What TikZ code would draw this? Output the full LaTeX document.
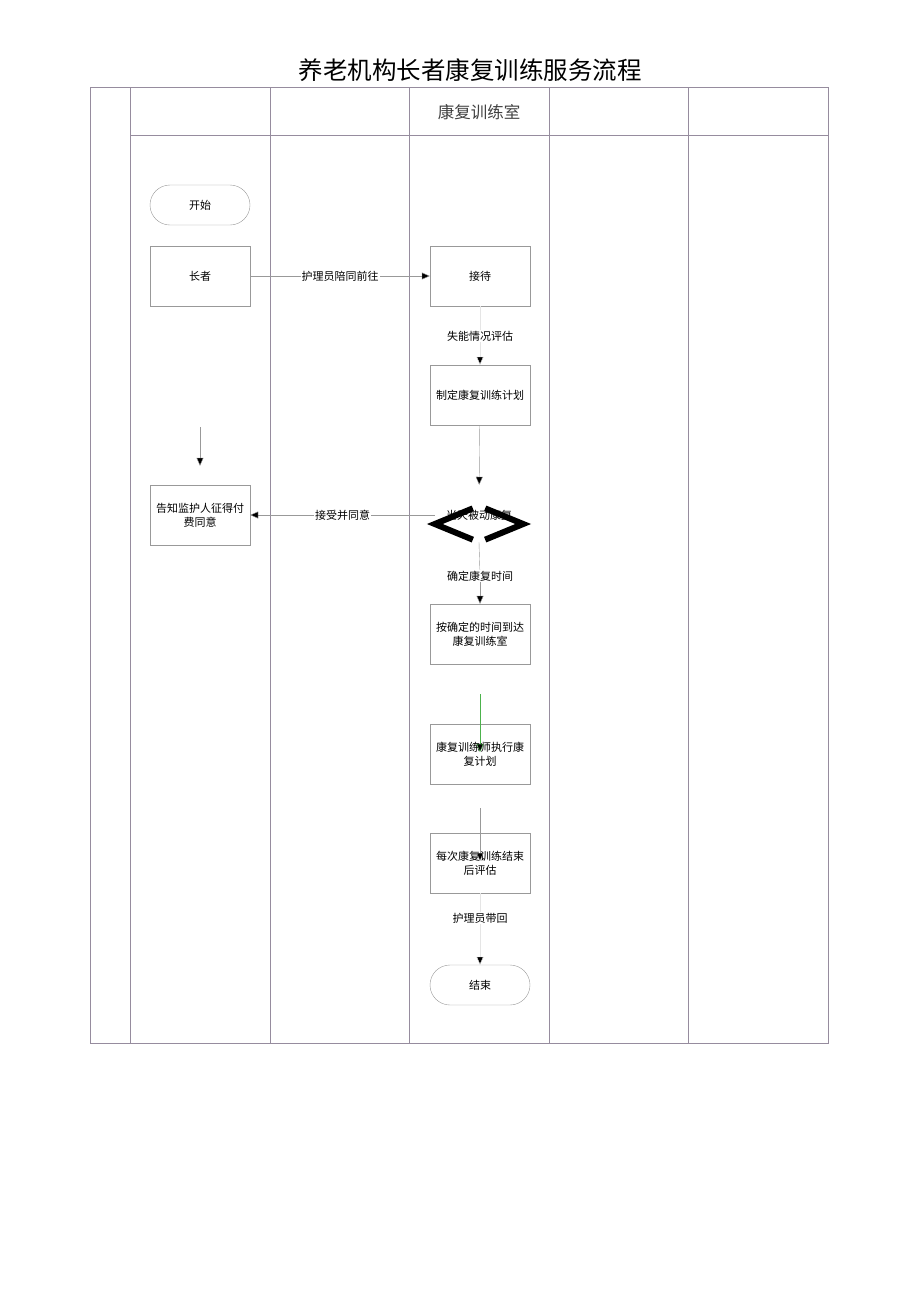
\documentclass[tikz,border=0pt]{standalone}
\usepackage{fontspec}
\newfontfamily\cjk{Noto Sans CJK SC}
\usetikzlibrary{positioning, arrows.meta, calc, shapes.geometric}
\definecolor{carrilgris}{RGB}{150,140,158}
\tikzset{
  caja/.style={
	draw=gray!80, thin, % borde de los pasos
	minimum width=100pt, minimum height=60pt,
	align=center,
  },
  terminal/.style={draw=gray!80, thin, rounded corners=20pt, minimum width=100pt, minimum height=40pt},
  etiqueta/.style={fill=white, inner sep=1pt},
  flecha/.style={-{Triangle[length=8pt, width=7pt, fill=black]}, draw=gray!80, thin},
  carril/.style={draw=carrilgris, thin},
}
\begin{document}
\begin{tikzpicture}[x=1pt, y=-1pt, font=\cjk\fontsize{11}{14}\selectfont]
		\useasboundingbox (0,0) rectangle (920,1301);

		% Carriles
		\draw[carril] (90,87) rectangle (828,1043);
		\foreach \x in {130,270,409,549,688}
			\draw[carril] (\x,87) -- (\x,1043);
		\draw[carril] (130,135) -- (828,135);

		\node[font=\cjk\fontsize{24.5}{28}\selectfont] (titulo) at (470,70) {养老机构长者康复训练服务流程};
		\node[font=\cjk\fontsize{16.5}{19}\selectfont, text=black!75] (sala) at (479,112) {康复训练室};

		% Pasos
		\node[terminal] (inicio) at (200,205) {开始};
		\node[caja] (anciano) at (200,276) {长者};
		\node[caja] (recepcion) at (480,276) {接待};
		\node[etiqueta] (evalua) at (480,336) {失能情况评估};
		\node[caja] (plan) at (480,395) {制定康复训练计划};
		\node[diamond, minimum width=88pt, minimum height=36pt, inner sep=0pt] (decision) at (479,524) {};
		\node[inner sep=1pt] (dectexto) at (479,515) {当天被动康复};
		\node[caja] (aviso) at (200,515) {告知监护人征得付\\费同意};
		\node[etiqueta] (horario) at (480,576) {确定康复时间};
		\node[caja] (llegada) at (480,634) {按确定的时间到达\\康复训练室};
		\node[caja] (ejecuta) at (480,754) {康复训练师执行康\\复计划};
		\node[caja] (evalfin) at (480,863) {每次康复训练结束\\后评估};
		\node[etiqueta] (regreso) at (480,918) {护理员带回};
		\node[terminal] (fin) at (480,985) {结束};

		\coordinate (arriba) at (200,427);
		\coordinate (linea1) at (480,694);
		\coordinate (linea2) at (480,808);

		% Rombo
		\draw[line width=6pt] ($(decision.west)!0.86!(decision.north)$) -- (decision.west) -- ($(decision.west)!0.86!(decision.south)$);
		\draw[line width=6pt] ($(decision.east)!0.86!(decision.north)$) -- (decision.east) -- ($(decision.east)!0.86!(decision.south)$);

		% Flechas
		\draw[flecha] (anciano) -- node[etiqueta]{护理员陪同前往} (recepcion);
		\draw[draw=gray!20, thin] (recepcion) -- (evalua);
		\draw[flecha, draw=gray!20] (evalua) -- (plan);
		\draw[flecha, shorten >=21pt] (plan) -- (decision.north);
		\draw[flecha] (aviso -| decision.west) -- node[etiqueta]{接受并同意} (aviso);
		\draw[flecha, shorten >=19pt] (arriba) -- (aviso.north);
		\draw[draw=gray!80, thin] (decision.south) -- (horario);
		\draw[flecha] (horario) -- (llegada);
		\draw[flecha, draw=green!40!gray, shorten >=2pt] (linea1) -- (ejecuta.center);
		\draw[flecha, shorten >=2pt] (linea2) -- (evalfin.center);
		\draw[draw=gray!20, thin] (evalfin) -- (regreso);
		\draw[flecha, draw=gray!20] (regreso) -- (fin);
\end{tikzpicture}
\end{document}
